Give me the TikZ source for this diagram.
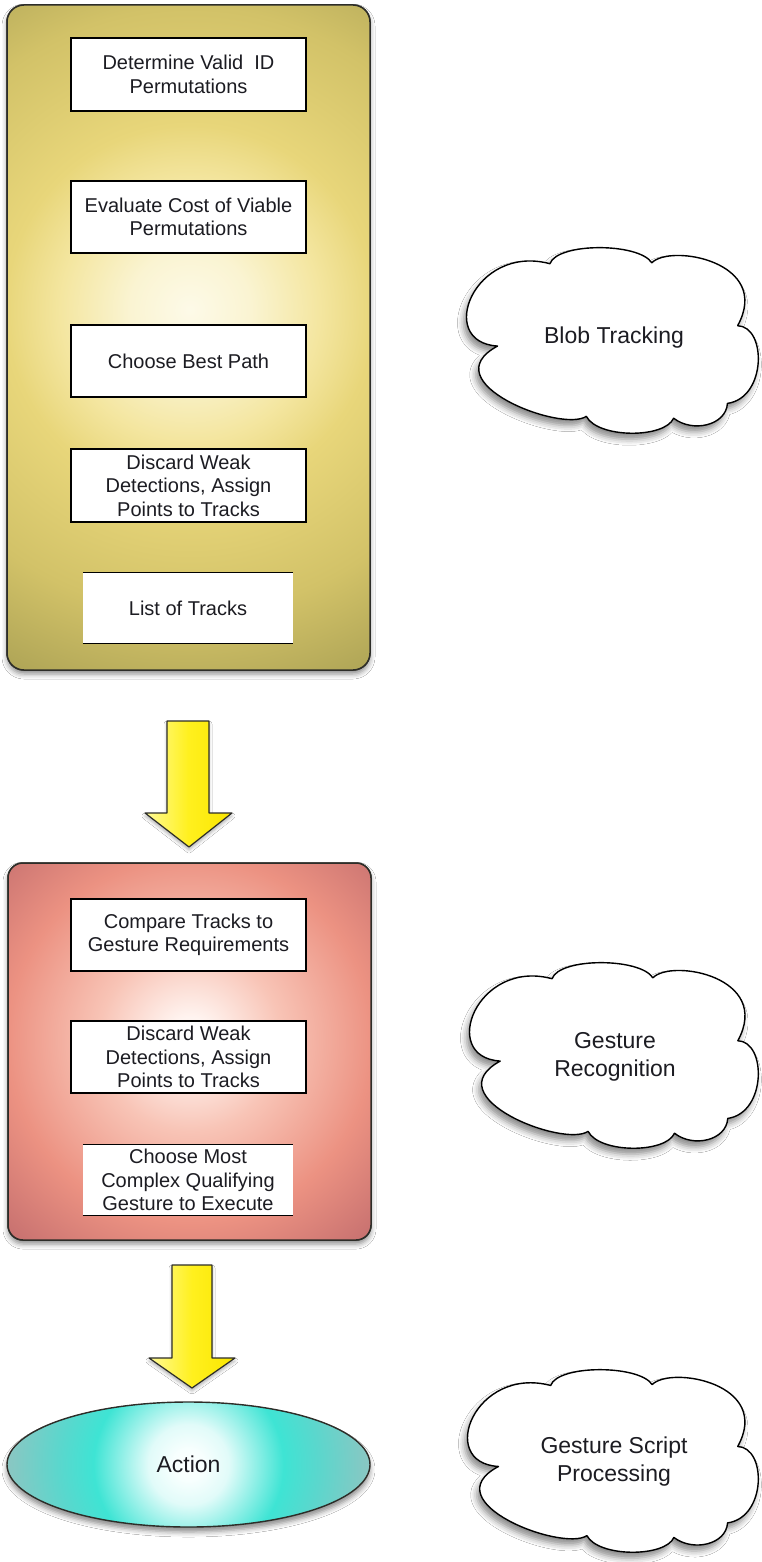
\documentclass[tikz,border=0pt]{standalone}
\usepackage{fontspec}
\setmainfont{Liberation Sans}
\usetikzlibrary{shapes.geometric,shadows,shadows.blur,calc}
\definecolor{txt}{RGB}{28,28,34}
\definecolor{outl}{RGB}{45,45,40}
\definecolor{ycorner}{RGB}{172,162,84}
\definecolor{rcorner}{RGB}{196,110,110}
\definecolor{cedge}{RGB}{140,198,194}
\pgfdeclareradialshading{yglow}{\pgfpoint{0bp}{0bp}}{color(0bp)=(rgb,255:red,253;green,250;blue,232); color(3.6bp)=(rgb,255:red,250;green,244;blue,210); color(7.7bp)=(rgb,255:red,244;green,230;blue,160); color(11bp)=(rgb,255:red,232;green,214;blue,122); color(18bp)=(rgb,255:red,210;green,194;blue,104); color(24bp)=(rgb,255:red,174;green,164;blue,86); color(50bp)=(rgb,255:red,172;green,162;blue,84)}
\pgfdeclareradialshading{rglow}{\pgfpoint{0bp}{0bp}}{color(0bp)=(rgb,255:red,255;green,246;blue,243); color(2bp)=(rgb,255:red,255;green,244;blue,240); color(8bp)=(rgb,255:red,248;green,196;blue,182); color(16bp)=(rgb,255:red,236;green,146;blue,130); color(24bp)=(rgb,255:red,196;green,110;blue,110); color(50bp)=(rgb,255:red,196;green,110;blue,110)}
\pgfdeclareradialshading{cglow}{\pgfpoint{0bp}{0bp}}{color(0bp)=(rgb,255:red,252;green,255;blue,255); color(2bp)=(rgb,255:red,248;green,255;blue,254); color(5.3bp)=(rgb,255:red,225;green,251;blue,249); color(12.5bp)=(rgb,255:red,62;green,228;blue,212); color(17bp)=(rgb,255:red,90;green,215;blue,205); color(24bp)=(rgb,255:red,140;green,198;blue,194); color(50bp)=(rgb,255:red,140;green,198;blue,194)}
\tikzset{
  bigbox/.style={draw=outl, line width=1.5pt, inner sep=0pt,
    blur shadow={shadow xshift=0pt, shadow yshift=-4pt, shadow blur radius=5pt, shadow opacity=45}},
  bigline/.style={draw=outl, line width=1.5pt},
  stepbox/.style={draw=black, line width=1.1pt, fill=white, align=center, text=txt,
    font=\fontsize{20}{23.5}\selectfont, inner sep=0pt, minimum width=235pt},
  openbox/.style={fill=white, align=center, text=txt,
    font=\fontsize{20}{23.5}\selectfont, inner sep=0pt, minimum width=210pt, minimum height=70pt},
  boxedge/.style={draw=black, line width=1.1pt},
  blockarrow/.style={draw=outl, line width=1.2pt, line join=round,
    left color={rgb,255:red,255;green,250;blue,150}, right color={rgb,255:red,250;green,230;blue,0}, middle color={rgb,255:red,255;green,240;blue,30},
    blur shadow={shadow xshift=0pt, shadow yshift=-3pt, shadow blur radius=3pt, shadow opacity=30}},
  cloudline/.style={draw=black, line width=1.4pt, fill=white, line join=round,
    blur shadow={shadow xshift=-3pt, shadow yshift=-6pt, shadow blur radius=6pt, shadow opacity=45}},
  cloudtext/.style={align=center, text=txt, font=\fontsize{23}{28}\selectfont, inner sep=0pt}
}
\newcommand\mycloud[4]{%
  \begin{scope}[shift={(#1pt,-#2pt)}, x=#3pt, y=-#4pt]
    \path[cloudline] (-0.79,0.06) .. controls (-1.22,0.02) and (-0.95,-1.05) .. (-0.43,-0.83)
      .. controls (-0.38,-1.06) and (0.18,-1.06) .. (0.27,-0.84)
      .. controls (0.40,-1.05) and (1.10,-0.85) .. (0.86,-0.16)
      .. controls (1.06,-0.15) and (1.06,0.62) .. (0.79,0.68)
      .. controls (0.78,0.92) and (0.55,1.0) .. (0.42,0.84)
      .. controls (0.36,1.06) and (-0.10,1.06) .. (-0.18,0.82)
      .. controls (-0.35,1.0) and (-1.25,0.45) .. (-0.79,0.06) -- cycle;
  \end{scope}}
\begin{document}
\begin{tikzpicture}[x=1pt,y=-1pt]
\useasboundingbox[fill=white] (0,0) rectangle (762,1562);
% yellow container
\node[bigbox, fill=ycorner, rounded corners=17pt, minimum width=363pt, minimum height=665pt] (ybox) at (188.5,337.5) {};
\begin{scope}
  \clip[rounded corners=17pt] (7,5) rectangle (370,670);
  \fill[shading=yglow] (190,310) circle (420);
\end{scope}
\draw[bigline, rounded corners=17pt] (7,5) rectangle (370,670);
\node[stepbox, minimum height=73pt] (b1) at (188.5,74.5) {Determine Valid\ \ ID\\Permutations};
\node[stepbox, minimum height=72pt] (b2) at (188.5,217) {Evaluate Cost of Viable\\Permutations};
\node[stepbox, minimum height=72pt] (b3) at (188.5,361) {Choose Best Path};
\node[stepbox, minimum height=73pt] (b4) at (188.5,485.5) {Discard Weak\\Detections, Assign\\Points to Tracks};
\node[openbox] (b5) at (188,608) {List of Tracks};
\draw[boxedge] (b5.north west) -- (b5.north east);
\draw[boxedge] (b5.south west) -- (b5.south east);
% arrow 1
\coordinate (a1top) at (188,721);
\coordinate (a1tip) at (189,847);
\draw[blockarrow] (167,721) -- (209,721) -- (209,813) -- (232,813) -- (a1tip) -- (145,813) -- (167,813) -- cycle;
% red container
\node[bigbox, fill=rcorner, rounded corners=15pt, minimum width=363pt, minimum height=377pt] (rbox) at (189.5,1051.5) {};
\begin{scope}
  \clip[rounded corners=15pt] (8,863) rectangle (371,1240);
  \fill[shading=rglow] (190,1040) circle (285);
\end{scope}
\draw[bigline, rounded corners=15pt] (8,863) rectangle (371,1240);
\node[stepbox, minimum height=72pt] (b6) at (188.5,935) {Compare Tracks to\\Gesture Requirements};
\node[stepbox, minimum height=72pt] (b7) at (188.5,1057) {Discard Weak\\Detections, Assign\\Points to Tracks};
\node[openbox] (b8) at (188,1180) {Choose Most\\Complex Qualifying\\Gesture to Execute};
\draw[boxedge] (b8.north west) -- (b8.north east);
\draw[boxedge] (b8.south west) -- (b8.south east);
% arrow 2
\coordinate (a2top) at (192,1265);
\coordinate (a2tip) at (192,1388);
\draw[blockarrow] (172,1265) -- (212,1265) -- (212,1358) -- (235,1358) -- (a2tip) -- (149,1358) -- (172,1358) -- cycle;
% action
\node[ellipse, fill=cedge, minimum width=363pt, minimum height=125pt, inner sep=0pt,
  blur shadow={shadow xshift=0pt, shadow yshift=-5pt, shadow blur radius=5pt, shadow opacity=45}] (act) at (188.5,1464.5) {};
\begin{scope}
  \clip (act.center) ellipse [x radius=181.5, y radius=62.5];
  \fill[shading=cglow] (act.center) circle (190);
\end{scope}
\draw[draw=outl, line width=1.4pt] (act.center) ellipse [x radius=181.5, y radius=62.5];
\node[text=txt, font=\fontsize{23}{28}\selectfont] (acttext) at (act.center) {Action};
% clouds
\mycloud{612.5}{340.5}{145.5}{92.5}
\node[cloudtext] (c1) at (614,338) {Blob Tracking};
\mycloud{614}{1055.5}{144}{92.5}
\node[cloudtext] (c2) at (615,1057) {Gesture\\Recognition};
\mycloud{613}{1461}{145}{91}
\node[cloudtext] (c3) at (614,1462) {Gesture Script\\Processing};
\end{tikzpicture}
\end{document}
